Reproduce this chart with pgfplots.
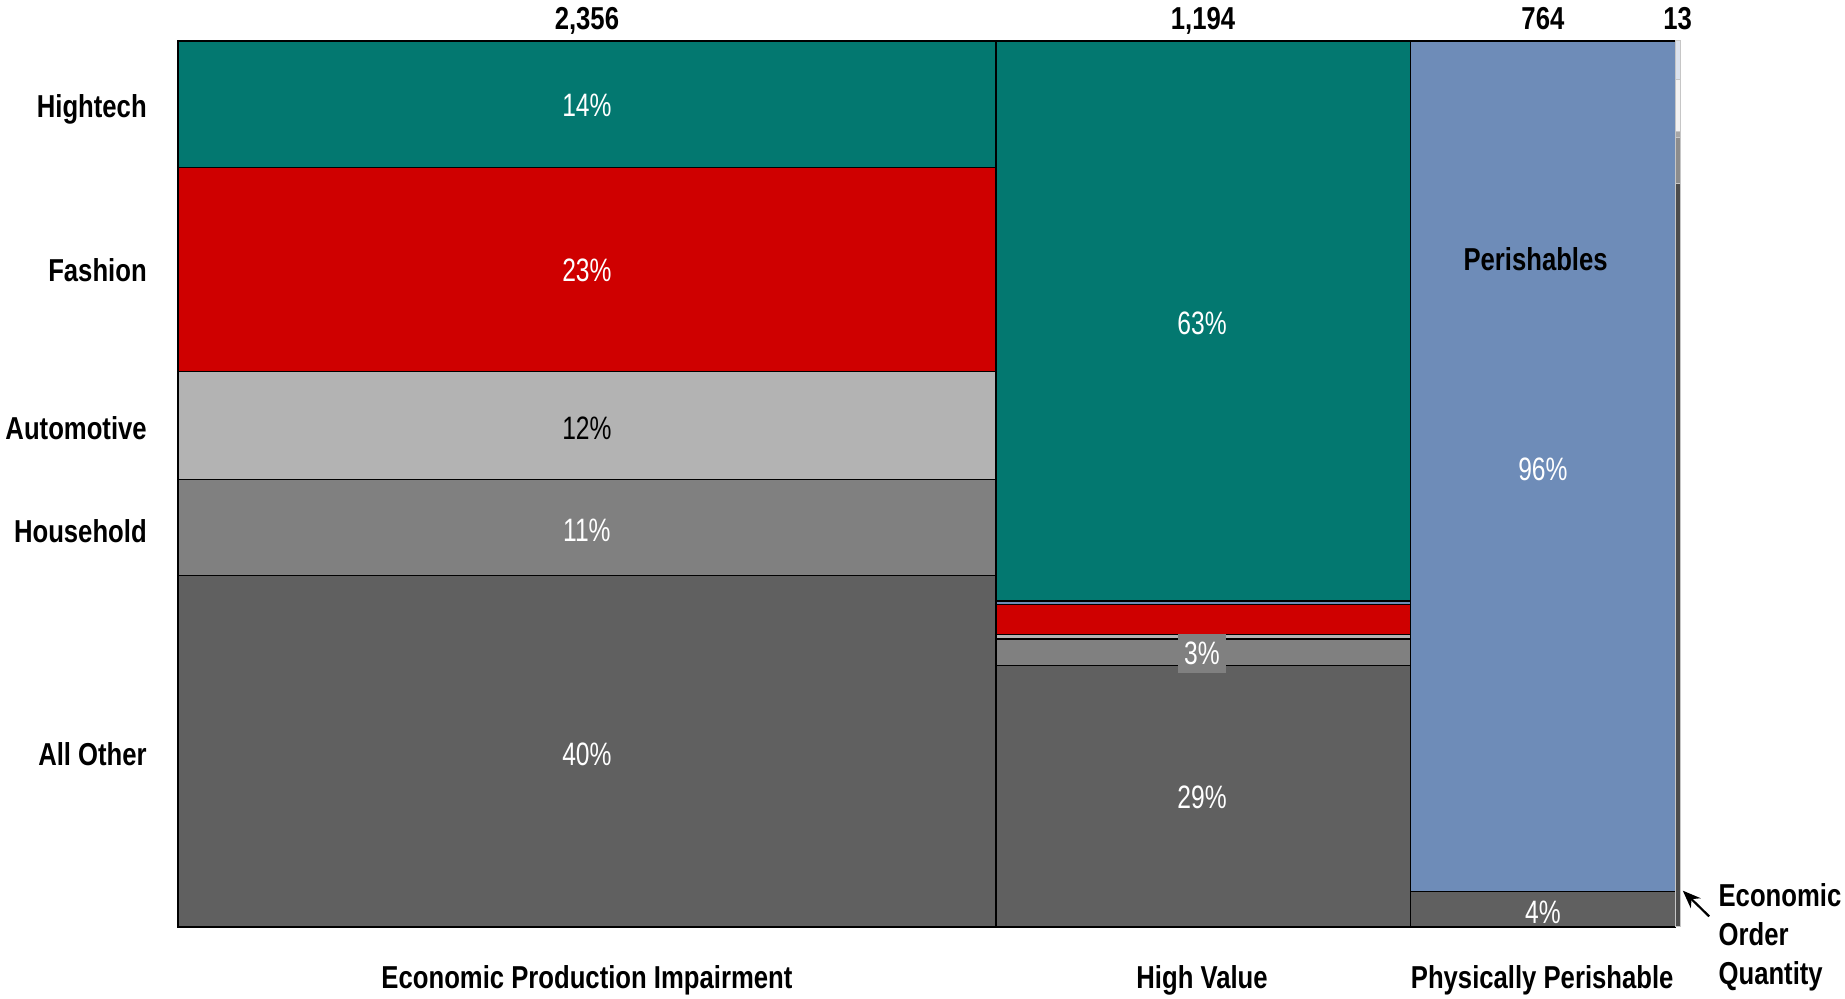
\documentclass[border=0pt]{standalone}
\usepackage{pgfplots}
\pgfplotsset{compat=1.18}
\usetikzlibrary{arrows.meta}
\usepackage{fontspec}
\setmainfont{Liberation Sans}
\newfontfamily\lblfont{Liberation Sans}[FakeStretch=0.81]
\newfontfamily\pctfont{Liberation Sans}[FakeStretch=0.76]
\definecolor{cteal}{HTML}{037870}
\definecolor{cred}{HTML}{CF0000}
\definecolor{cauto}{HTML}{B3B3B3}
\definecolor{chouse}{HTML}{808080}
\definecolor{cother}{HTML}{606060}
\definecolor{cper}{HTML}{6E8CB8}
\newcommand\seg[5]{\addplot[fill=#5, draw=black, line width=0.7pt, mark=none] coordinates {(#1,#3) (#2,#3) (#2,#4) (#1,#4)} --cycle;}
\newcommand\sege[5]{\addplot[fill=#5, draw=gray!45, line width=0.5pt, mark=none] coordinates {(#1,#3) (#2,#3) (#2,#4) (#1,#4)} --cycle;}
\begin{document}
\begin{tikzpicture}[
  lbl/.style={font=\lblfont\bfseries\fontsize{15.85}{19.5}\selectfont, text=black, inner sep=0pt},
  pct/.style={font=\pctfont\fontsize{16.2}{19.5}\selectfont, text=white, inner sep=0pt},
]
\useasboundingbox (-89pt,-36pt) rectangle (833.5pt,463.5pt);
\begin{axis}[
  scale only axis, width=751pt, height=443pt,
  xmin=0, xmax=4327, ymin=0, ymax=100,
  hide axis, clip=false,
]
% Column 1: Economic Production Impairment (2356)
\seg{0}{2356}{0}{39.7}{cother}
\seg{0}{2356}{39.7}{50.5}{chouse}
\seg{0}{2356}{50.5}{62.7}{cauto}
\seg{0}{2356}{62.7}{85.7}{cred}
\seg{0}{2356}{85.7}{100}{cteal}
% Column 2: High Value (1194)
\seg{2356}{3550}{0}{29.5}{cother}
\seg{2356}{3550}{29.5}{32.5}{chouse}
\seg{2356}{3550}{32.5}{33.0}{cauto}
\seg{2356}{3550}{33.0}{36.4}{cred}
\seg{2356}{3550}{36.4}{36.8}{cper}
\seg{2356}{3550}{36.8}{100}{cteal}
% Column 3: Physically Perishable (764)
\seg{3550}{4314}{0}{4}{cother}
\seg{3550}{4314}{4}{100}{cper}
% Column 4: Economic Order Quantity (13)
\sege{4314}{4327}{0}{83.9}{black!70}
\sege{4314}{4327}{83.9}{89.1}{black!45}
\sege{4314}{4327}{89.1}{89.8}{black!35}
\sege{4314}{4327}{89.8}{95.6}{black!5}
\sege{4314}{4327}{95.6}{100}{cper!25}

% totals
\node[lbl, anchor=base] at (axis cs:1178,101.35) {2,356};
\node[lbl, anchor=base] at (axis cs:2953,101.35) {1,194};
\node[lbl, anchor=base] at (axis cs:3932,101.35) {764};
\node[lbl, anchor=base] at (axis cs:4320,101.35) {13};
% row labels
\node[lbl, anchor=base east] at (axis cs:-89,91.4) {Hightech};
\node[lbl, anchor=base east] at (axis cs:-89,72.8) {Fashion};
\node[lbl, anchor=base east] at (axis cs:-89,55.0) {Automotive};
\node[lbl, anchor=base east] at (axis cs:-89,43.4) {Household};
\node[lbl, anchor=base east] at (axis cs:-89,18.2) {All Other};
% column labels
\node[lbl, anchor=base] at (axis cs:1178,-6.9) {Economic Production Impairment};
\node[lbl, anchor=base] at (axis cs:2950,-6.9) {High Value};
\node[lbl, anchor=base] at (axis cs:3930,-6.9) {Physically Perishable};
\node[lbl, anchor=north west, align=left] at (axis cs:4437,4.97) {Economic\\Order\\Quantity};
\draw[-{Stealth[length=9pt,width=7pt]}, line width=1.1pt] (axis cs:4411,1.2) -- (axis cs:4335,4.1);
% percentages
\node[pct] at (axis cs:1178,92.7) {14\%};
\node[pct] at (axis cs:1178,74.1) {23\%};
\node[pct, text=black] at (axis cs:1178,56.3) {12\%};
\node[pct] at (axis cs:1178,44.75) {11\%};
\node[pct] at (axis cs:1178,19.5) {40\%};
\node[pct] at (axis cs:2950,68.1) {63\%};
\node[pct, fill=chouse, minimum width=24pt, minimum height=19.5pt] at (axis cs:2950,30.9) {3\%};
\node[pct] at (axis cs:2950,14.6) {29\%};
\node[lbl] at (axis cs:3911,75.4) {Perishables};
\node[pct] at (axis cs:3932,51.7) {96\%};
\node[pct] at (axis cs:3932,1.7) {4\%};
\end{axis}
\end{tikzpicture}
\end{document}
